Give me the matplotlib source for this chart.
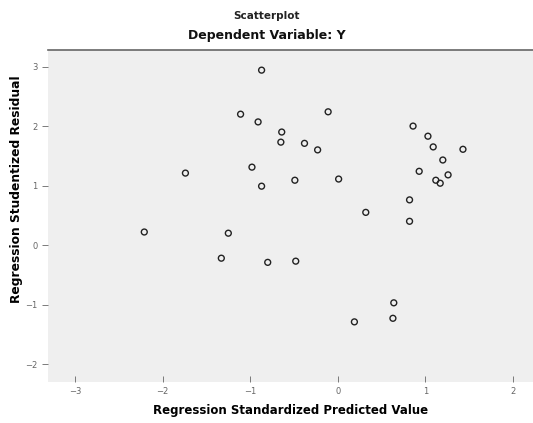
import matplotlib.pyplot as plt

# regression standardized predicted value / studentized residual
pred = [-0.87, -1.11, -0.91, -0.64, -0.65, -0.38, -0.23, -0.11, -1.74, -0.98,
        -0.87, -0.49, 0.01, -2.21, -1.25, -1.33, -0.80, -0.48, 0.32, 0.82,
        0.82, 0.86, 1.03, 1.09, 1.43, 1.20, 0.93, 1.26, 1.12, 1.17,
        0.64, 0.63, 0.19]
resid = [2.94, 2.20, 2.07, 1.90, 1.73, 1.71, 1.60, 2.24, 1.21, 1.31,
         0.99, 1.09, 1.11, 0.22, 0.20, -0.22, -0.29, -0.27, 0.55, 0.76,
         0.40, 2.00, 1.83, 1.65, 1.61, 1.43, 1.24, 1.18, 1.09, 1.04,
         -0.97, -1.23, -1.29]

x_ticks = [-3, -2, -1, 0, 1, 2]
y_ticks = [3, 2, 1, 0, -1, -2]

fig = plt.figure(figsize=(5.33, 4.23), dpi=100)
ax = fig.add_axes([0.09, 0.097, 0.91, 0.785])
ax.set_facecolor('#efefef')

ax.scatter(pred, resid, s=18, facecolors='none', edgecolors='#222222', linewidths=1.0)

ax.set_xlim(-3.31, 2.23)
ax.set_ylim(-2.30, 3.28)
ax.set_xticks(x_ticks)
ax.set_yticks(y_ticks)
ax.tick_params(axis='both', labelsize=6, colors='#666666', length=4, width=0.6)
ax.tick_params(axis='x', direction='in')

for s in ['left', 'right', 'bottom']:
    ax.spines[s].set_visible(False)
ax.spines['top'].set_color('#666666')
ax.spines['top'].set_linewidth(1.2)

ax.set_xlabel('Regression Standardized Predicted Value', fontsize=8.5, fontweight='bold', labelpad=6)
ax.set_ylabel('Regression Studentized Residual', fontsize=8.8, fontweight='bold')
ax.yaxis.set_label_coords(-0.052, 0.58)

fig.text(0.5, 0.963, 'Scatterplot', ha='center', va='center', fontsize=7.5, fontweight='bold', color='#222222')
fig.text(0.5, 0.915, 'Dependent Variable: Y', ha='center', va='center', fontsize=9, fontweight='bold', color='#111111')

plt.savefig('out.png', dpi=100)
